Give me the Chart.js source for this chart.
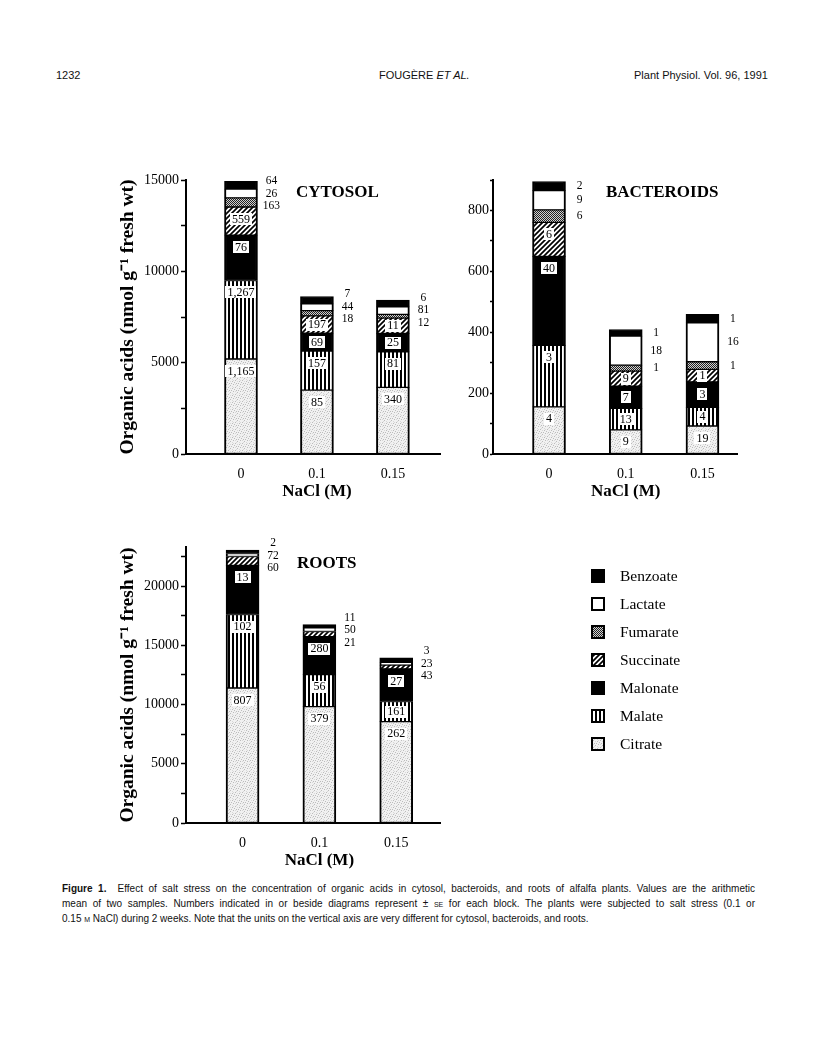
<!DOCTYPE html>
<html>
<head>
<meta charset="utf-8">
<script src="https://cdn.jsdelivr.net/npm/chart.js@4.4.1/dist/chart.umd.min.js"></script>
<style>
html,body{margin:0;padding:0;background:#fff;}
#page{position:relative;width:816px;height:1052px;overflow:hidden;background:#fff;}
canvas.chart{position:absolute;}
.hdr{position:absolute;font-family:"Liberation Sans",Arial,sans-serif;font-size:11px;line-height:13px;color:#111;white-space:nowrap;}
.ptitle{position:absolute;font-family:"Liberation Serif","Times New Roman",serif;font-weight:bold;font-size:17px;line-height:17px;color:#000;white-space:nowrap;}
.legrow{position:absolute;left:591px;height:14px;font-family:"Liberation Serif","Times New Roman",serif;font-size:15.5px;color:#000;white-space:nowrap;}
.legrow canvas{position:absolute;left:0;top:0;}
.legrow span{position:absolute;left:29px;top:-3px;line-height:20px;}
.caption{position:absolute;left:62px;top:881px;width:693px;font-family:"Liberation Sans",Arial,sans-serif;font-size:10px;line-height:15px;color:#111;}
.caption div{white-space:nowrap;}
.caption .j{text-align:justify;text-align-last:justify;white-space:normal;}
.sc{font-variant:small-caps;}
</style>
</head>
<body>
<div id="page">
  <div class="hdr" style="left:56px;top:69px;">1232</div>
  <div class="hdr" style="left:379px;top:69px;">FOUGÈRE <i>ET AL.</i></div>
  <div class="hdr" style="left:634px;top:69px;">Plant Physiol. Vol. 96, 1991</div>

  <canvas id="cCytosol" class="chart" width="350" height="350" style="left:100px;top:160px;"></canvas>
  <canvas id="cBacteroids" class="chart" width="310" height="350" style="left:440px;top:160px;"></canvas>
  <canvas id="cRoots" class="chart" width="350" height="350" style="left:100px;top:530px;"></canvas>

  <div class="ptitle" style="left:296px;top:183px;">CYTOSOL</div>
  <div class="ptitle" style="left:606px;top:183px;">BACTEROIDS</div>
  <div class="ptitle" style="left:297px;top:554px;">ROOTS</div>

  <div id="legend"></div>

  <div class="caption">
    <div class="j"><b>Figure 1.</b>&nbsp; Effect of salt stress on the concentration of organic acids in cytosol, bacteroids, and roots of alfalfa plants. Values are the arithmetic</div>
    <div class="j">mean of two samples. Numbers indicated in or beside diagrams represent ± <span class="sc">se</span> for each block. The plants were subjected to salt stress (0.1 or</div>
    <div>0.15 <span class="sc">m</span> NaCl) during 2 weeks. Note that the units on the vertical axis are very different for cytosol, bacteroids, and roots.</div>
  </div>
</div>

<script>
// ---------------- DATA ----------------
const categories = ['0', '0.1', '0.15'];
const seriesNames = ['Citrate', 'Malate', 'Malonate', 'Succinate', 'Fumarate', 'Lactate', 'Benzoate'];

// Cytosol (nmol g-1 fresh wt)
const cytosolCitrate   = [5200, 3500, 3650];
const cytosolMalate    = [4300, 2140, 1950];
const cytosolMalonate  = [2480, 970, 1000];
const cytosolSuccinate = [1540, 950, 840];
const cytosolFumarate  = [500, 290, 200];
const cytosolLactate   = [480, 370, 420];
const cytosolBenzoate  = [430, 400, 370];
const cytosolCitrateSE   = ['1,165', '85', '340'];
const cytosolMalateSE    = ['1,267', '157', '81'];
const cytosolMalonateSE  = ['76', '69', '25'];
const cytosolSuccinateSE = ['559', '197', '11'];
const cytosolFumarateSE  = ['163', '18', '12'];
const cytosolLactateSE   = ['26', '44', '81'];
const cytosolBenzoateSE  = ['64', '7', '6'];
const cytosolSideSeries  = ['Benzoate', 'Lactate', 'Fumarate'];

// Bacteroids
const bacteroidsCitrate   = [155, 79, 92];
const bacteroidsMalate    = [202, 71, 61];
const bacteroidsMalonate  = [292, 73, 84];
const bacteroidsSuccinate = [112, 49, 41];
const bacteroidsFumarate  = [41, 20, 25];
const bacteroidsLactate   = [63, 95, 128];
const bacteroidsBenzoate  = [30, 22, 28];
const bacteroidsCitrateSE   = ['4', '9', '19'];
const bacteroidsMalateSE    = ['3', '13', '4'];
const bacteroidsMalonateSE  = ['40', '7', '3'];
const bacteroidsSuccinateSE = ['6', '9', '1'];
const bacteroidsFumarateSE  = ['6', '1', '1'];
const bacteroidsLactateSE   = ['9', '18', '16'];
const bacteroidsBenzoateSE  = ['2', '1', '1'];
const bacteroidsSideSeries  = ['Benzoate', 'Lactate', 'Fumarate'];

// Roots
const rootsCitrate   = [11400, 9830, 8560];
const rootsMalate    = [6200, 2690, 1700];
const rootsMalonate  = [4150, 3200, 2750];
const rootsSuccinate = [750, 450, 320];
const rootsFumarate  = [0, 0, 0];
const rootsLactate   = [250, 300, 240];
const rootsBenzoate  = [280, 280, 370];
const rootsCitrateSE   = ['807', '379', '262'];
const rootsMalateSE    = ['102', '56', '161'];
const rootsMalonateSE  = ['13', '280', '27'];
const rootsSuccinateSE = ['60', '21', '43'];
const rootsFumarateSE  = ['', '', ''];
const rootsLactateSE   = ['72', '50', '23'];
const rootsBenzoateSE  = ['2', '11', '3'];
const rootsSideSeries  = ['Benzoate', 'Lactate', 'Succinate'];

// y-axis tick settings
const cytosolTicks    = {max: 15000, step: 2500, labelStep: 5000};
const bacteroidsTicks = {max: 900,   step: 100,  labelStep: 200};
const rootsTicks      = {max: 23300, step: 2500, labelStep: 5000};

const yTitle = 'Organic acids (nmol g\u207B\u00B9 fresh wt)';
const xTitle = 'NaCl (M)';

// ---------------- PATTERNS ----------------
function makePattern(kind) {
  const c = document.createElement('canvas');
  let ctx;
  if (kind === 'stipple') {
    c.width = 7; c.height = 7; ctx = c.getContext('2d');
    ctx.fillStyle = '#f1f1f1'; ctx.fillRect(0, 0, 7, 7);
    ctx.fillStyle = '#bcbcbc';
    [[0,0],[4,1],[2,3],[6,4],[1,5],[5,6],[3,6]].forEach(p => ctx.fillRect(p[0], p[1], 1, 1));
    ctx.fillStyle = '#d8d8d8';
    [[2,0],[6,2],[0,3],[4,4],[3,2]].forEach(p => ctx.fillRect(p[0], p[1], 1, 1));
  } else if (kind === 'vstripe') {
    c.width = 4; c.height = 4; ctx = c.getContext('2d');
    ctx.fillStyle = '#fff'; ctx.fillRect(0, 0, 4, 4);
    ctx.fillStyle = '#000'; ctx.fillRect(0, 0, 2, 4);
  } else if (kind === 'hatch') {
    c.width = 5; c.height = 5; ctx = c.getContext('2d');
    ctx.fillStyle = '#fff'; ctx.fillRect(0, 0, 5, 5);
    ctx.strokeStyle = '#000'; ctx.lineWidth = 1.7;
    ctx.beginPath();
    ctx.moveTo(-1, 6); ctx.lineTo(6, -1);
    ctx.moveTo(-1, 1); ctx.lineTo(1, -1);
    ctx.moveTo(4, 6); ctx.lineTo(6, 4);
    ctx.stroke();
  } else if (kind === 'checker') {
    c.width = 2; c.height = 2; ctx = c.getContext('2d');
    ctx.fillStyle = '#d0d0d0'; ctx.fillRect(0, 0, 2, 2);
    ctx.fillStyle = '#222'; ctx.fillRect(0, 0, 1, 1); ctx.fillRect(1, 1, 1, 1);
  }
  return ctx.createPattern(c, 'repeat');
}
const fills = {
  Citrate: makePattern('stipple'),
  Malate: makePattern('vstripe'),
  Malonate: '#000',
  Succinate: makePattern('hatch'),
  Fumarate: makePattern('checker'),
  Lactate: '#fff',
  Benzoate: '#000'
};

// ---------------- CHART SETUP ----------------
Chart.defaults.font.family = '"Liberation Serif", "Times New Roman", serif';
Chart.defaults.color = '#000';

const segLabels = {
  id: 'segLabels',
  afterDatasetsDraw(chart) {
    const opts = chart.options.plugins.segLabels;
    const ctx = chart.ctx;
    const nCat = categories.length;
    ctx.save();
    ctx.textAlign = 'center';
    ctx.textBaseline = 'middle';
    for (let j = 0; j < nCat; j++) {
      const side = [];
      chart.data.datasets.forEach((ds, i) => {
        const el = chart.getDatasetMeta(i).data[j];
        const txt = ds.seLabels[j];
        if (!el || !txt) return;
        const top = Math.min(el.y, el.base), bot = Math.max(el.y, el.base);
        if (opts.side.includes(ds.label)) {
          side.push({txt, c: (top + bot) / 2, x: el.x + el.width / 2});
          return;
        }
        const y = Math.min(top + 12, (top + bot) / 2);
        ctx.font = '12px "Liberation Serif", serif';
        const w = ctx.measureText(txt).width;
        ctx.fillStyle = '#fff';
        ctx.fillRect(Math.round(el.x - w / 2 - 2), Math.round(y - 6), Math.round(w + 4), 12);
        ctx.fillStyle = '#000';
        ctx.fillText(txt, el.x, y + 0.5);
      });
      side.sort((a, b) => a.c - b.c);
      let ys = side.map(s => s.c);
      let minGap = Infinity;
      for (let k = 1; k < ys.length; k++) minGap = Math.min(minGap, ys[k] - ys[k - 1]);
      if (minGap < 12.5) {
        const m = ys.reduce((a, b) => a + b, 0) / ys.length;
        ys = side.map((s, k) => m + (k - (side.length - 1) / 2) * 12.5);
      }
      ctx.font = '11.5px "Liberation Serif", serif';
      ctx.fillStyle = '#000';
      side.forEach((s, k) => ctx.fillText(s.txt, s.x + 14, ys[k]));
    }
    ctx.restore();
  },
  afterDraw(chart) {
    const ctx = chart.ctx;
    const xs = chart.scales.x;
    ctx.save();
    ctx.font = 'bold 17px "Liberation Serif", serif';
    ctx.fillStyle = '#000';
    ctx.textAlign = 'center';
    ctx.textBaseline = 'middle';
    ctx.fillText(xTitle, xs.getPixelForValue(1), chart.chartArea.bottom + 38);
    ctx.restore();
  }
};

function buildDatasets(values, ses) {
  return seriesNames.map((name, i) => ({
    label: name,
    data: values[i].map((v, j) => ({x: j, y: v})),
    seLabels: ses[i],
    backgroundColor: fills[name],
    borderColor: '#000',
    borderWidth: {left: 2, right: 2, top: 1, bottom: 1},
    borderSkipped: false,
    barThickness: 33
  }));
}

function makeChart(id, values, ses, side, tk, lay) {
  return new Chart(document.getElementById(id), {
    type: 'bar',
    data: {datasets: buildDatasets(values, ses)},
    plugins: [segLabels],
    options: {
      responsive: false,
      animation: false,
      devicePixelRatio: 1,
      layout: {padding: {top: lay.padTop, right: lay.padRight, left: 0, bottom: 0}},
      plugins: {legend: {display: false}, tooltip: {enabled: false}, segLabels: {side}},
      scales: {
        x: {
          type: 'linear', stacked: true, min: lay.xMin, max: lay.xMax, offset: false,
          afterBuildTicks: s => { s.ticks = categories.map((c, i) => ({value: i})); },
          afterFit: s => { s.height = lay.xAxisHeight; },
          ticks: {callback: v => categories[v] ?? '', font: {size: 14}, color: '#000', padding: 12, autoSkip: false, maxRotation: 0},
          grid: {display: false, drawTicks: false},
          border: {display: true, color: '#000', width: 2}
        },
        y: {
          type: 'linear', stacked: true, min: 0, max: tk.max,
          afterBuildTicks: s => {
            const t = [];
            for (let v = 0; v <= tk.max; v += tk.step) t.push({value: v});
            s.ticks = t;
          },
          afterFit: s => { s.width = lay.yAxisWidth; },
          ticks: {autoSkip: false, padding: lay.tickPad, font: {size: 14}, color: '#000',
                  callback: v => (v % tk.labelStep === 0 ? String(v) : '')},
          grid: {display: true, drawOnChartArea: false, drawTicks: true, tickLength: lay.tickLen, tickColor: '#000', tickWidth: 1.5},
          border: {display: true, color: '#000', width: 2},
          title: {display: lay.showTitle, text: yTitle, color: '#000', font: {size: 19.5, weight: 'bold'}, padding: {top: 16, bottom: 0}}
        }
      }
    }
  });
}

makeChart('cCytosol',
  [cytosolCitrate, cytosolMalate, cytosolMalonate, cytosolSuccinate, cytosolFumarate, cytosolLactate, cytosolBenzoate],
  [cytosolCitrateSE, cytosolMalateSE, cytosolMalonateSE, cytosolSuccinateSE, cytosolFumarateSE, cytosolLactateSE, cytosolBenzoateSE],
  cytosolSideSeries, cytosolTicks,
  {padTop: 20, padRight: 10, yAxisWidth: 86, xAxisHeight: 56, xMin: -0.724, xMax: 2.62, tickLen: 5, tickPad: 2, showTitle: true});

makeChart('cBacteroids',
  [bacteroidsCitrate, bacteroidsMalate, bacteroidsMalonate, bacteroidsSuccinate, bacteroidsFumarate, bacteroidsLactate, bacteroidsBenzoate],
  [bacteroidsCitrateSE, bacteroidsMalateSE, bacteroidsMalonateSE, bacteroidsSuccinateSE, bacteroidsFumarateSE, bacteroidsLactateSE, bacteroidsBenzoateSE],
  bacteroidsSideSeries, bacteroidsTicks,
  {padTop: 20, padRight: 13, yAxisWidth: 53, xAxisHeight: 56, xMin: -0.73, xMax: 2.45, tickLen: 3, tickPad: 1, showTitle: false});

makeChart('cRoots',
  [rootsCitrate, rootsMalate, rootsMalonate, rootsSuccinate, rootsFumarate, rootsLactate, rootsBenzoate],
  [rootsCitrateSE, rootsMalateSE, rootsMalonateSE, rootsSuccinateSE, rootsFumarateSE, rootsLactateSE, rootsBenzoateSE],
  rootsSideSeries, rootsTicks,
  {padTop: 17, padRight: 10, yAxisWidth: 86, xAxisHeight: 57, xMin: -0.736, xMax: 2.57, tickLen: 5, tickPad: 2, showTitle: true});

// ---------------- LEGEND ----------------
const legendOrder = seriesNames.slice().reverse();
const legendEl = document.getElementById('legend');
legendOrder.forEach((name, i) => {
  const row = document.createElement('div');
  row.className = 'legrow';
  row.style.top = (569 + i * 28) + 'px';
  const cv = document.createElement('canvas');
  cv.width = 14; cv.height = 14;
  const g = cv.getContext('2d');
  g.fillStyle = fills[name];
  g.fillRect(0, 0, 14, 14);
  g.strokeStyle = '#000'; g.lineWidth = 2;
  g.strokeRect(1, 1, 12, 12);
  const sp = document.createElement('span');
  sp.textContent = name;
  row.appendChild(cv); row.appendChild(sp);
  legendEl.appendChild(row);
});
</script>
</body>
</html>
